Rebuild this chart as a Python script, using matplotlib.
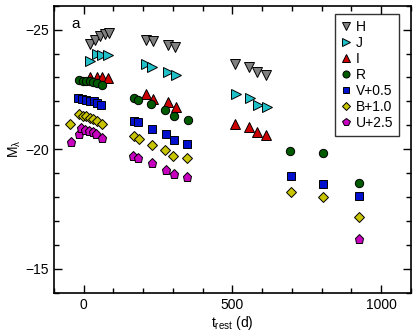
import matplotlib
matplotlib.use("Agg")
import matplotlib.pyplot as plt
from matplotlib.ticker import MultipleLocator

plt.rcParams['font.family'] = ['Liberation Sans', 'DejaVu Sans']
plt.rcParams['mathtext.default'] = 'regular'

# Data (rest-frame days, absolute magnitude)
H_t = [20, 38, 54, 70, 85, 209, 232, 283, 306, 508, 557, 583, 612]
H_m = [-24.39, -24.58, -24.72, -24.80, -24.86, -24.55, -24.51, -24.36, -24.26, -23.55, -23.45, -23.22, -23.12]

J_t = [22, 45, 63, 82, 211, 231, 284, 310, 512, 559, 585, 615]
J_m = [-23.69, -24.0, -23.95, -23.92, -23.58, -23.44, -23.23, -23.09, -22.29, -22.15, -21.87, -21.76]

I_t = [20, 45, 63, 82, 211, 233, 284, 312, 508, 557, 583, 612]
I_m = [-23.02, -23.03, -23.02, -22.98, -22.3, -22.12, -21.97, -21.77, -21.04, -20.95, -20.74, -20.58]

R_t = [-15, -3, 8, 20, 32, 45, 62, 168, 182, 227, 273, 304, 350, 694, 803, 927]
R_m = [-22.9, -22.87, -22.85, -22.84, -22.82, -22.78, -22.68, -22.13, -22.04, -21.9, -21.66, -21.39, -21.23, -19.92, -19.84, -18.6]

V_t = [-19, -5, 9, 22, 34, 46, 57, 168, 183, 228, 276, 304, 349, 697, 803, 927]
V_m = [-22.15, -22.08, -22.05, -22.03, -22.0, -21.95, -21.85, -21.2, -21.12, -20.83, -20.65, -20.39, -20.24, -18.9, -18.56, -18.03]

B_t = [-45, -16, -4, 9, 20, 31, 45, 60, 168, 186, 228, 273, 301, 349, 697, 803, 927]
B_m = [-21.04, -21.49, -21.41, -21.37, -21.32, -21.28, -21.2, -21.07, -20.55, -20.44, -20.16, -19.95, -19.71, -19.63, -18.2, -18.0, -17.16]

U_t = [-42, -17, -8, 5, 17, 30, 42, 61, 166, 181, 228, 276, 304, 349, 927]
U_m = [-20.3, -20.64, -20.87, -20.82, -20.76, -20.7, -20.62, -20.48, -19.71, -19.64, -19.44, -19.14, -18.97, -18.83, -16.26]

labels = ['H', 'J', 'I', 'R', 'V+0.5', 'B+1.0', 'U+2.5']
series = [(H_t, H_m), (J_t, J_m), (I_t, I_m), (R_t, R_m), (V_t, V_m), (B_t, B_m), (U_t, U_m)]
markers = ['v', '>', '^', 'o', 's', 'D', 'p']
colors = ['#808080', '#20c0c8', '#cc0000', '#005a00', '#0010cc', '#c8c400', '#c800c0']
sizes = [6.5, 6.5, 6.5, 6.0, 5.5, 5.0, 6.5]

fig = plt.figure(figsize=(4.15, 3.35), dpi=100)
ax = fig.add_axes([0.130, 0.126, 0.860, 0.857])

for (t, m), lab, mk, c, s in zip(series, labels, markers, colors, sizes):
    ax.plot(t, m, linestyle='none', marker=mk, markersize=s, markerfacecolor=c,
            markeredgecolor='black', markeredgewidth=0.7, label=lab)

ax.set_xlim(-100, 1100)
ax.set_ylim(-14, -26)
ax.xaxis.set_major_locator(MultipleLocator(500))
ax.xaxis.set_minor_locator(MultipleLocator(100))
ax.yaxis.set_major_locator(MultipleLocator(5))
ax.yaxis.set_minor_locator(MultipleLocator(1))
ax.tick_params(which='both', direction='in', top=True, right=True, labelsize=10, width=1.0)
ax.tick_params(which='major', length=6)
ax.tick_params(which='minor', length=3.5)
for sp in ax.spines.values():
    sp.set_linewidth(1.2)

ax.set_xlabel(r't$_{rest}$ (d)', fontsize=10, labelpad=2)
ax.set_ylabel(r'M$_{\lambda}$', fontsize=10, labelpad=2)
ax.text(0.062, 0.935, 'a', transform=ax.transAxes, fontsize=11, ha='center', va='center')

leg = ax.legend(loc='upper right', fontsize=10, frameon=True, fancybox=False,
                edgecolor='black', handlelength=0.8, handletextpad=0.3,
                borderpad=0.4, labelspacing=0.15, markerscale=0.85,
                bbox_to_anchor=(0.967, 0.971), borderaxespad=0)
leg.get_frame().set_linewidth(1.0)

fig.savefig('out.png', dpi=100)
